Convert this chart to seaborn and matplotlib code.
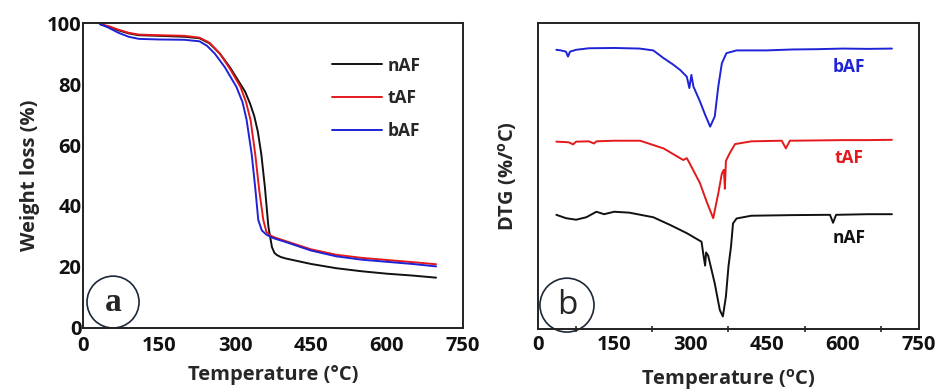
import matplotlib
matplotlib.use("Agg")
import matplotlib.pyplot as plt
import seaborn as sns
import pandas as pd
from matplotlib.patches import Ellipse
from matplotlib.ticker import MultipleLocator

# ---------------- data: TGA (panel a) ----------------
samples = ["nAF", "tAF", "bAF"]
colors = {"nAF": "#111111", "tAF": "#e3191c", "bAF": "#1f23d6"}

tga_nAF_T = [34, 50, 70, 90, 110, 150, 200, 230, 250, 270, 290, 305, 320, 330, 338, 345, 352, 359, 366, 373, 378, 383, 390, 400, 450, 500, 550, 600, 650, 697]
tga_nAF_W = [99.6, 98.8, 97.6, 96.6, 96.0, 95.8, 95.5, 95.0, 93.3, 90.0, 85.5, 81.5, 77.5, 73.5, 69.5, 64.5, 57.0, 46.3, 33.2, 26.5, 24.6, 23.9, 23.3, 22.8, 21.0, 19.6, 18.6, 17.8, 17.2, 16.5]

tga_tAF_T = [34, 50, 70, 90, 110, 150, 200, 230, 250, 270, 290, 311, 322, 331, 340, 348, 356, 362, 370, 380, 400, 450, 500, 550, 600, 650, 697]
tga_tAF_W = [99.6, 99.0, 97.8, 96.8, 96.2, 96.0, 95.8, 95.2, 93.5, 90.0, 85.0, 79.0, 74.0, 68.0, 57.0, 45.0, 35.4, 31.5, 30.3, 29.6, 28.5, 25.8, 24.0, 23.0, 22.3, 21.6, 20.9]

tga_bAF_T = [34, 50, 70, 90, 110, 150, 200, 230, 245, 260, 280, 303, 315, 323, 333, 340, 346, 353, 362, 375, 400, 450, 500, 550, 600, 650, 697]
tga_bAF_W = [99.6, 98.5, 96.8, 95.5, 94.8, 94.6, 94.5, 94.0, 92.5, 90.0, 85.5, 79.0, 74.0, 68.2, 57.0, 46.0, 35.4, 32.0, 30.6, 29.5, 28.2, 25.4, 23.5, 22.4, 21.7, 21.0, 20.2]

# ---------------- data: DTG (panel b, arbitrary offset units) ----------------
dtg_bAF_T = [36, 45, 55, 59, 63, 75, 100, 150, 200, 227, 247, 265, 280, 293, 298, 302, 306, 319, 329, 339, 348, 355, 362, 371, 391, 450, 500, 550, 600, 650, 697]
dtg_bAF_V = [91.2, 91.0, 90.6, 89.0, 90.6, 91.2, 91.7, 91.8, 91.6, 91.0, 88.5, 86.5, 84.6, 82.4, 78.7, 83.0, 79.2, 74.3, 70.0, 66.1, 69.4, 79.2, 86.8, 90.1, 91.0, 91.0, 91.3, 91.4, 91.6, 91.5, 91.6]

dtg_tAF_T = [36, 60, 69, 75, 100, 110, 115, 150, 201, 247, 286, 293, 299, 319, 332, 345, 355, 362, 366, 368, 370, 378, 388, 420, 480, 488, 496, 550, 600, 650, 697]
dtg_tAF_V = [61.2, 61.0, 60.3, 61.2, 61.3, 60.6, 61.3, 61.5, 61.5, 59.0, 55.2, 55.8, 54.0, 47.6, 41.6, 36.2, 44.3, 50.8, 52.0, 45.8, 54.9, 57.6, 60.4, 61.3, 61.5, 59.0, 61.5, 61.6, 61.7, 61.7, 61.8]

dtg_nAF_T = [36, 55, 75, 95, 115, 130, 150, 180, 227, 260, 293, 322, 325, 329, 331, 335, 348, 358, 364, 370, 375, 380, 384, 391, 420, 500, 575, 581, 587, 650, 697]
dtg_nAF_V = [37.3, 36.2, 35.7, 36.5, 38.3, 37.5, 38.3, 38.0, 36.5, 34.0, 31.3, 28.5, 25.0, 20.7, 25.0, 24.0, 14.9, 6.2, 4.1, 10.6, 20.4, 26.9, 34.5, 36.1, 37.0, 37.2, 37.3, 34.7, 37.3, 37.5, 37.5]

x_ticks = [0, 150, 300, 450, 600, 750]
y_ticks_a = [0, 20, 40, 60, 80, 100]
dtg_label_pos = {"bAF": (613, 85.7), "tAF": (613, 55.8), "nAF": (613, 29.8)}

# ---------------- style ----------------
sns.set_style("white")
plt.rcParams["font.family"] = ["Open Sans", "DejaVu Sans"]
plt.rcParams["font.weight"] = "bold"
plt.rcParams["axes.labelweight"] = "bold"

fig = plt.figure(figsize=(9.38, 3.92), dpi=100)
axA = fig.add_axes([0.0885, 0.1633, 0.405, 0.778])
axB = fig.add_axes([0.5736, 0.1607, 0.406, 0.781])

tga = {"nAF": (tga_nAF_T, tga_nAF_W), "tAF": (tga_tAF_T, tga_tAF_W), "bAF": (tga_bAF_T, tga_bAF_W)}
dtg = {"nAF": (dtg_nAF_T, dtg_nAF_V), "tAF": (dtg_tAF_T, dtg_tAF_V), "bAF": (dtg_bAF_T, dtg_bAF_V)}

for s in samples:
    T, W = tga[s]
    sns.lineplot(x=T, y=W, ax=axA, color=colors[s], lw=1.4, label=s, estimator=None, sort=False)
for s in samples:
    T, V = dtg[s]
    sns.lineplot(x=T, y=V, ax=axB, color=colors[s], lw=1.4, estimator=None, sort=False)
    lx, ly = dtg_label_pos[s]
    axB.text(lx, ly, s, color=colors[s], fontsize=12.5, fontweight="bold", ha="center", va="center")

# ---------------- panel a ----------------
axA.set_xlim(0, 750)
axA.set_ylim(0, 100)
axA.set_xticks(x_ticks)
axA.set_yticks(y_ticks_a)
axA.tick_params(direction="in", length=6, width=1.2, labelsize=14.5, colors="#111111")
axA.tick_params(axis="x", pad=6)
axA.tick_params(axis="y", pad=1)
axA.set_xlabel("Temperature (°C)", fontsize=14.5, labelpad=6)
axA.set_ylabel("Weight loss (%)", fontsize=14.5, labelpad=5)
leg = axA.legend(loc="upper left", bbox_to_anchor=(0.655, 0.89), frameon=False, fontsize=12.5,
                 handlelength=2.9, handletextpad=0.3, labelspacing=0.85, borderpad=0, borderaxespad=0)
axA.add_patch(Ellipse((0.079, 0.085), 0.137, 0.170, transform=axA.transAxes, fill=False,
                      ec="#1c2838", lw=1.2, clip_on=False))
axA.text(0.079, 0.085, "a", transform=axA.transAxes, ha="center", va="center",
         fontsize=24, fontweight="bold", family=["Liberation Serif", "DejaVu Serif"])

# ---------------- panel b ----------------
axB.set_xlim(0, 750)
axB.set_ylim(0, 100)
axB.set_xticks(x_ticks)
axB.xaxis.set_minor_locator(MultipleLocator(75))
axB.set_yticks([])
axB.tick_params(axis="x", which="major", direction="inout", length=6, width=1.2, labelsize=14.5, pad=1, colors="#111111")
axB.tick_params(axis="x", which="minor", direction="inout", length=4, width=1.2, bottom=True)
axB.set_xlabel("Temperature ($^{\\mathregular{o}}$C)", fontsize=14.5, labelpad=9)
axB.set_ylabel("DTG (%/$^{\\mathregular{o}}$C)", fontsize=14.5, labelpad=14)
axB.add_patch(Ellipse((0.076, 0.078), 0.142, 0.176, transform=axB.transAxes, fill=False,
                      ec="#1c2838", lw=1.2, clip_on=False))
axB.text(0.076, 0.078, "b", transform=axB.transAxes, ha="center", va="center",
         fontsize=24, fontweight="normal")

for ax in (axA, axB):
    for sp in ax.spines.values():
        sp.set_visible(True)
        sp.set_linewidth(1.4)
        sp.set_color("#222222")

fig.savefig("out.png", dpi=100)
